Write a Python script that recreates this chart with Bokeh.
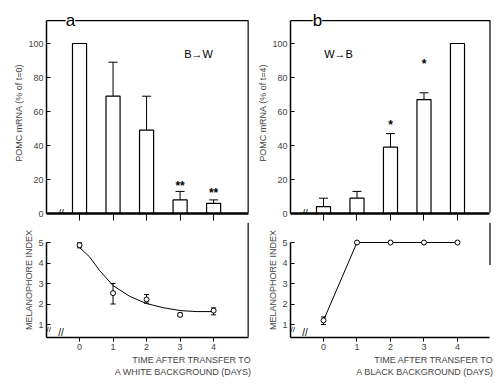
from bokeh.plotting import figure
from bokeh.layouts import row, column
from bokeh.models import (Range1d, FixedTicker, Whisker, TeeHead, ColumnDataSource,
                          Label, Title)
from bokeh.embed import file_html
from bokeh.resources import INLINE
from bokeh.core.properties import value

FONT = "Liberation Sans"

# ---------------- data ----------------
days = [0, 1, 2, 3, 4]
day_labels = ["0", "1", "2", "3", "4"]

# panel a: black -> white background
pomc_a = [100, 69, 49, 8, 6]
pomc_a_hi = [100, 89, 69, 13, 8]
star_days_a = [3, 4]
star_y_a = [16, 12]
star_text_a = ["**", "**"]

mi_a = [4.87, 2.53, 2.22, 1.47, 1.68]
mi_a_lo = [4.74, 2.0, 2.04, 1.40, 1.47]
mi_a_hi = [4.98, 3.0, 2.46, 1.56, 1.81]
curve_a_x = [0, 0.3, 0.6, 1.0, 1.5, 2.0, 2.5, 3.0, 3.5, 4.0]
curve_a_y = [4.75, 4.3, 3.63, 2.9, 2.37, 2.02, 1.82, 1.68, 1.63, 1.63]

# panel b: white -> black background
pomc_b = [4, 9, 39, 67, 100]
pomc_b_hi = [9, 13, 47, 71, 100]
star_days_b = [2, 3]
star_y_b = [52, 88]
star_text_b = ["*", "*"]

mi_b = [1.2, 5, 5, 5, 5]
mi_b_lo = [1.0, 5, 5, 5, 5]
mi_b_hi = [1.37, 5, 5, 5, 5]

pomc_ticks = [0, 20, 40, 60, 80, 100]
pomc_box_top = 113.5
mi_ticks = [1, 2, 3, 4, 5]

TOP_H, BOT_H = 222, 156


def style_yaxis(p, ticks, label, bounds):
    ax = p.yaxis[0]
    ax.ticker = FixedTicker(ticks=ticks)
    ax.minor_tick_line_color = None
    ax.major_tick_in = 4
    ax.major_tick_out = 0
    ax.axis_line_width = 1.5
    ax.major_label_text_font = FONT
    ax.major_label_text_font_size = "9px"
    ax.major_label_standoff = 3
    ax.axis_label = label
    ax.axis_label_text_font = FONT
    ax.axis_label_text_font_size = "9px"
    ax.axis_label_text_font_style = "normal"
    ax.axis_label_standoff = 1
    ax.bounds = bounds


def top_panel(xr, box_right, frame_w, vals, hi, sdays, sy, stext, ylabel, min_left,
              letter, letter_x, arrow_text, arrow_x):
    yr = Range1d(0, 118.24)
    p = figure(width=min_left + frame_w, height=TOP_H, x_range=xr, y_range=yr,
               output_backend="svg", toolbar_location=None,
               min_border_left=min_left, min_border_right=0,
               min_border_top=12, min_border_bottom=9)
    p.grid.visible = False
    p.outline_line_color = None
    style_yaxis(p, pomc_ticks, ylabel, (0, pomc_box_top))
    # zero line with downward ticks at each day
    ax = p.xaxis[0]
    ax.ticker = FixedTicker(ticks=days)
    ax.major_tick_in = 0
    ax.major_tick_out = 7
    ax.minor_tick_line_color = None
    ax.axis_line_width = 2.5
    ax.bounds = (xr.start, box_right)
    ax.major_label_text_font_size = "1px"
    ax.major_label_text_alpha = 0
    ax.major_label_standoff = 0
    # frame: top line and right edge
    p.line(x=[xr.start, box_right, box_right], y=[pomc_box_top, pomc_box_top, 0.6],
           line_color="black", line_width=1.2)
    p.vbar(x=days, top=vals, width=0.42, bottom=0, fill_color="white",
           line_color="black", line_width=1.2)
    ex = [d for d, v, h in zip(days, vals, hi) if h > v]
    el = [v for v, h in zip(vals, hi) if h > v]
    eh = [h for v, h in zip(vals, hi) if h > v]
    src = ColumnDataSource(dict(x=ex, lo=el, hi=eh))
    p.add_layout(Whisker(source=src, base="x", lower="lo", upper="hi", dimension="height",
                         line_color="black", line_width=1,
                         upper_head=TeeHead(size=9, line_color="black", line_width=1),
                         lower_head=None))
    p.text(x=sdays, y=sy, text=stext, text_align="center", text_baseline="middle",
           text_font=value(FONT), text_font_size="12px", text_font_style="bold",
           text_color="black")
    p.add_layout(Label(x=letter_x, y=pomc_box_top, text=letter, text_align="center",
                       text_baseline="middle", text_font=FONT,
                       text_font_size="17px", background_fill_color="white",
                       text_color="black"))
    p.add_layout(Label(x=arrow_x, y=94, text=arrow_text, text_align="center",
                       text_baseline="middle", text_font=FONT,
                       text_font_size="11px", text_color="black"))
    p.add_layout(Label(x=-0.55, y=0, text="//", text_align="center",
                       text_baseline="middle", text_font=FONT,
                       text_font_size="10px", text_color="black"))
    return p


def bottom_panel(xr, box_right, frame_w, min_left, line1, line2, edge_from):
    yr = Range1d(0.366, 5.976)
    p = figure(width=min_left + frame_w, height=BOT_H, x_range=xr, y_range=yr,
               output_backend="svg", toolbar_location=None,
               min_border_left=min_left, min_border_right=0,
               min_border_top=0, min_border_bottom=41)
    p.grid.visible = False
    p.outline_line_color = None
    style_yaxis(p, mi_ticks, "MELANOPHORE INDEX", (yr.start, 5.0))
    ax = p.xaxis[0]
    ax.ticker = FixedTicker(ticks=days)
    ax.major_label_overrides = {d: s for d, s in zip(days, day_labels)}
    ax.major_tick_in = 0
    ax.major_tick_out = 4
    ax.minor_tick_line_color = None
    ax.axis_line_width = 1.5
    ax.bounds = (xr.start, box_right)
    ax.major_label_text_font = FONT
    ax.major_label_text_font_size = "9px"
    ax.major_label_standoff = 2
    for t in (line1, line2):
        p.add_layout(Title(text=t, align="right", text_font=FONT, text_font_size="9px",
                           text_font_style="normal", standoff=0, offset=0), "below")
    p.add_layout(Label(x=-0.55, y=yr.start, text="//", text_align="center",
                       text_baseline="bottom", text_font=FONT,
                       text_font_size="10px", text_color="black"))
    p.add_layout(Label(x=xr.start, y=0.75, text="//", text_align="left",
                       text_baseline="middle", text_font=FONT,
                       text_font_size="8px", text_color="black"))
    # right edge of the panel frame
    p.line(x=[box_right, box_right], y=[edge_from, yr.end - 0.01],
           line_color="black", line_width=1.2)
    return p


# x ranges: frames extended a few px beyond the drawn box edge
xr_a = Range1d(-0.985, 5.13)
box_a = 5.03
xr_b = Range1d(-0.985, 5.075)
box_b = 4.97

a_top = top_panel(xr_a, box_a, 205, pomc_a, pomc_a_hi, star_days_a, star_y_a, star_text_a,
                  "POMC mRNA (% of t=0)", 46, "a", -0.27, "B\u2192W", 3.55)
b_top = top_panel(xr_b, box_b, 203, pomc_b, pomc_b_hi, star_days_b, star_y_b, star_text_b,
                  "POMC mRNA (% of t=4)", 39, "b", -0.18, "W\u2192B", 0.45)

a_bot = bottom_panel(xr_a, box_a, 205, 46, "TIME AFTER TRANSFER TO",
                     "A WHITE BACKGROUND (DAYS)", 0.4)
b_bot = bottom_panel(xr_b, box_b, 203, 39, "TIME AFTER TRANSFER TO",
                     "A BLACK BACKGROUND (DAYS)", 3.9)

# panel a lower: fitted curve and points
a_bot.line(curve_a_x, curve_a_y, line_color="black", line_width=1)
src_a = ColumnDataSource(dict(x=days, lo=mi_a_lo, hi=mi_a_hi))
a_bot.add_layout(Whisker(source=src_a, base="x", lower="lo", upper="hi", dimension="height",
                         line_color="black", line_width=1,
                         upper_head=TeeHead(size=5, line_color="black", line_width=1),
                         lower_head=TeeHead(size=5, line_color="black", line_width=1)))
a_bot.scatter(days, mi_a, size=5, marker="circle", fill_color="white", line_color="black")

# panel b lower
b_bot.line(days, mi_b, line_color="black", line_width=1)
src_b = ColumnDataSource(dict(x=days, lo=mi_b_lo, hi=mi_b_hi))
b_bot.add_layout(Whisker(source=src_b, base="x", lower="lo", upper="hi", dimension="height",
                         line_color="black", line_width=1,
                         upper_head=TeeHead(size=5, line_color="black", line_width=1),
                         lower_head=TeeHead(size=5, line_color="black", line_width=1)))
b_bot.scatter(days, mi_b, size=5, marker="circle", fill_color="white", line_color="black")

layout = row(column(a_top, a_bot), column(b_top, b_bot))
open("out.html", "w").write(file_html(layout, INLINE))
